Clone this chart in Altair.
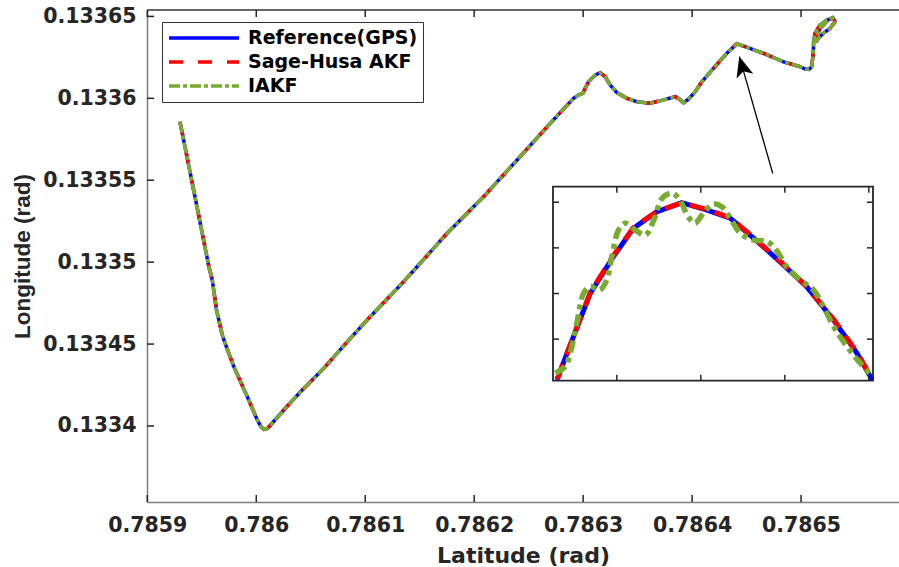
import altair as alt
import pandas as pd

# ---------------- data ----------------
series_names = ["Reference(GPS)", "Sage-Husa AKF", "IAKF"]
series_colors = ["#0000FF", "#FF0000", "#77AC30"]

# trajectory (the three estimates coincide at this scale)
track_lat = [0.7859299, 0.7859321, 0.7859437, 0.7859565, 0.7859596, 0.7859635,
             0.7859688, 0.7859709, 0.7859794, 0.7859917, 0.7860009, 0.7860039,
             0.7860069, 0.7860103, 0.7860131, 0.7860253, 0.7860406, 0.7860619,
             0.7860864, 0.7861017, 0.7861353, 0.7861751, 0.7862087, 0.7862393,
             0.7862698, 0.7862912, 0.7862958, 0.7862998, 0.7863019, 0.7863049,
             0.7863111, 0.7863157, 0.7863203, 0.7863248, 0.7863310, 0.7863402,
             0.7863493, 0.7863615, 0.7863737, 0.7863845, 0.7863884, 0.7863921,
             0.7863966, 0.7864028, 0.7864089, 0.7864196, 0.7864319, 0.7864410,
             0.7864471, 0.7864654, 0.7864838, 0.7864991, 0.7865037, 0.7865073,
             0.7865098, 0.7865113, 0.7865115, 0.7865128, 0.7865174, 0.7865236,
             0.7865296, 0.7865312, 0.7865266, 0.7865204, 0.7865159, 0.7865137,
             0.7865165, 0.7865248, 0.7865303]
track_lon = [0.1335857, 0.1335786, 0.1335400, 0.1334972, 0.1334891, 0.1334708,
             0.1334555, 0.1334513, 0.1334362, 0.1334179, 0.1334037, 0.1334000,
             0.1333980, 0.1333985, 0.1334006, 0.1334098, 0.1334209, 0.1334352,
             0.1334535, 0.1334647, 0.1334881, 0.1335176, 0.1335400, 0.1335623,
             0.1335847, 0.1336000, 0.1336020, 0.1336031, 0.1336061, 0.1336101,
             0.1336142, 0.1336156, 0.1336132, 0.1336081, 0.1336034, 0.1336000,
             0.1335979, 0.1335970, 0.1335990, 0.1336010, 0.1335994, 0.1335973,
             0.1335994, 0.1336040, 0.1336101, 0.1336183, 0.1336275, 0.1336333,
             0.1336319, 0.1336275, 0.1336223, 0.1336193, 0.1336179, 0.1336176,
             0.1336193, 0.1336284, 0.1336345, 0.1336397, 0.1336447, 0.1336478,
             0.1336488, 0.1336467, 0.1336427, 0.1336397, 0.1336366, 0.1336344,
             0.1336417, 0.1336478, 0.1336496]

x_ticks = [0.7859, 0.7860, 0.7861, 0.7862, 0.7863, 0.7864, 0.7865]
y_ticks = [0.13340, 0.13345, 0.13350, 0.13355, 0.13360, 0.13365]
x_domain = [0.7858997, 0.7865899]
y_domain = [0.1333536, 0.1336539]

# arrow pointing at the zoomed peak
arrow_lat = [0.7864740, 0.7864434]
arrow_lon = [0.1335542, 0.1336254]
arrow_head_lat = [0.7864459]
arrow_head_lon = [0.1336195]

# inset (zoom of the peak), in inset tick units
inset_ref_u = [0.286, 0.484, 0.682, 0.96, 1.198, 1.476, 1.774, 2.07, 2.35, 2.63,
               2.94, 3.26, 3.58, 3.86, 4.04]
inset_ref_v = [0.109, 1.057, 2.0, 2.81, 3.43, 3.79, 3.99, 3.83, 3.65, 3.21,
               2.70, 2.15, 1.42, 0.69, 0.109]
inset_sage_u = [0.29, 0.487, 0.684, 0.962, 1.20, 1.478, 1.776, 2.072, 2.352, 2.632,
                2.942, 3.262, 3.582, 3.862, 4.045]
inset_sage_v = [0.12, 1.08, 2.02, 2.84, 3.45, 3.80, 3.99, 3.84, 3.66, 3.22,
                2.71, 2.15, 1.43, 0.70, 0.11]
inset_iakf_u = [0.267, 0.385, 0.444, 0.524, 0.603, 0.682, 0.80, 0.88, 0.94, 1.02,
                1.10, 1.22, 1.34, 1.44, 1.54, 1.655, 1.75, 1.85, 1.93, 2.03,
                2.15, 2.25, 2.35, 2.47, 2.63, 2.79, 2.90, 3.02, 3.18, 3.34,
                3.46, 3.58, 3.74, 3.90, 4.04]
inset_iakf_v = [0.255, 0.40, 0.69, 1.35, 2.0, 2.15, 2.08, 2.30, 2.81, 3.39,
                3.54, 3.39, 3.28, 3.61, 4.09, 4.20, 4.05, 3.68, 3.54, 3.76,
                3.96, 3.90, 3.65, 3.32, 3.17, 3.14, 2.95, 2.59, 2.30, 2.08,
                1.71, 1.28, 0.84, 0.47, 0.18]
inset_u_ticks = [1, 2, 3, 4]
inset_v_ticks = [1, 2, 3, 4]
inset_u_domain = [0.24, 4.05]
inset_v_domain = [0.09, 4.34]

# ---------------- layout ----------------
W, H = 752, 492
TXT = "#262626"
FONT = "DejaVu Sans"
LBL = 20.5

rows = []
for s in series_names:
    for i, (a, b) in enumerate(zip(track_lat, track_lon)):
        rows.append({"series": s, "lat": a, "lon": b, "idx": i})
df = pd.DataFrame(rows)

xs = alt.Scale(domain=x_domain, nice=False, zero=False)
ys = alt.Scale(domain=y_domain, nice=False, zero=False)

x_axis = alt.Axis(values=x_ticks, format=".4~f", ticks=False, tickSize=0, grid=False,
                  domainColor="#7f7f7f", domainWidth=1.5,
                  labelFont=FONT, labelFontSize=LBL, labelFontWeight="bold",
                  labelColor=TXT, labelPadding=13.5, labelFlush=False, labelOverlap=False,
                  title="Latitude (rad)", titleFont=FONT, titleFontSize=22,
                  titleFontWeight="bold", titleColor=TXT, titleY=43)
y_axis = alt.Axis(values=y_ticks, format=".5~f", ticks=False, tickSize=0, grid=False,
                  domainColor="#7f7f7f", domainWidth=1.5,
                  labelFont=FONT, labelFontSize=LBL, labelFontWeight="bold",
                  labelColor=TXT, labelPadding=11, labelFlush=False, labelOverlap=False,
                  title="Longitude (rad)", titleFont="Liberation Sans", titleFontSize=22.5,
                  titleFontWeight="bold", titleColor=TXT, titleX=-113, titleY=H / 2)

legend = alt.Legend(title=None, orient="none", legendX=15, legendY=12, direction="vertical",
                    fillColor="white", strokeColor="#333333", padding=5,
                    cornerRadius=0, symbolType="stroke", symbolSize=4900,
                    symbolStrokeWidth=2.5, clipHeight=22, rowPadding=2,
                    labelFont=FONT, labelFontSize=19, labelFontWeight="bold",
                    labelColor="#000000", labelOffset=7, labelLimit=400)

color = alt.Color("series:N", scale=alt.Scale(domain=series_names, range=series_colors),
                  legend=legend)
dash = alt.StrokeDash("series:N",
                      scale=alt.Scale(domain=series_names,
                                      range=[[1, 0], [14, 15], [11, 3, 4, 3]]),
                      legend=legend)
width = alt.StrokeWidth("series:N",
                        scale=alt.Scale(domain=series_names, range=[3.5, 3.5, 4.2]),
                        legend=None)

base = alt.Chart(df).mark_line(strokeCap="butt").encode(
    x=alt.X("lat:Q", scale=xs, axis=x_axis),
    y=alt.Y("lon:Q", scale=ys, axis=y_axis),
    color=color, strokeDash=dash, strokeWidth=width, order=alt.Order("idx:Q"))
line_layers = [base.transform_filter(alt.datum.series == s) for s in series_names]

xt = pd.DataFrame({"v": x_ticks})
yt = pd.DataFrame({"v": y_ticks})
tick_kw = dict(color=TXT, thickness=1.5, size=7, opacity=1)
bottom_ticks = alt.Chart(xt).mark_tick(orient="vertical", yOffset=-3.5, **tick_kw).encode(
    x=alt.X("v:Q", scale=xs, axis=x_axis), y=alt.value(H))
top_ticks = alt.Chart(xt).mark_tick(orient="vertical", yOffset=3.5, **tick_kw).encode(
    x=alt.X("v:Q", scale=xs, axis=x_axis), y=alt.value(0))
left_ticks = alt.Chart(yt).mark_tick(orient="horizontal", xOffset=3.5, **tick_kw).encode(
    y=alt.Y("v:Q", scale=ys, axis=y_axis), x=alt.value(0))
top_line = alt.Chart(pd.DataFrame({"a": [0]})).mark_rule(color="#333333", strokeWidth=1.5).encode(
    x=alt.value(0), x2=alt.value(W), y=alt.value(0))

arrow_df = pd.DataFrame({"x0": [arrow_lat[0]], "x1": [arrow_lat[1]],
                         "y0": [arrow_lon[0]], "y1": [arrow_lon[1]]})
arrow_line = alt.Chart(arrow_df).mark_rule(color="black", strokeWidth=1.3).encode(
    x=alt.X("x0:Q", scale=xs, axis=x_axis), x2="x1:Q",
    y=alt.Y("y0:Q", scale=ys, axis=y_axis), y2="y1:Q")
head_df = pd.DataFrame({"x": arrow_head_lat, "y": arrow_head_lon})
arrow_head = alt.Chart(head_df).mark_point(
    shape="M0,-1L0.85,1L0,0.5L-0.85,1Z", filled=True, size=420, angle=344,
    color="black", opacity=1, strokeWidth=0).encode(
    x=alt.X("x:Q", scale=xs, axis=x_axis), y=alt.Y("y:Q", scale=ys, axis=y_axis))

main = alt.layer(*line_layers, arrow_line, arrow_head, top_line,
                 bottom_ticks, top_ticks, left_ticks)

# ---------------- inset ----------------
us = alt.Scale(domain=inset_u_domain, range=[406, 726], nice=False, zero=False)
vs = alt.Scale(domain=inset_v_domain, range=[370.7, 176.7], nice=False, zero=False)

frame_df = pd.DataFrame({"u0": [inset_u_domain[0]], "u1": [inset_u_domain[1]],
                         "v0": [inset_v_domain[0]], "v1": [inset_v_domain[1]]})
frame = alt.Chart(frame_df).mark_rect(fill="white", stroke=TXT, strokeWidth=1.8).encode(
    x=alt.X("u0:Q", scale=us, axis=None), x2="u1:Q",
    y=alt.Y("v0:Q", scale=vs, axis=None), y2="v1:Q")


def inset_line(u, v, col, dsh, sw, interp):
    d = pd.DataFrame({"u": u, "v": v, "idx": list(range(len(u)))})
    return alt.Chart(d).mark_line(color=col, strokeDash=dsh, strokeWidth=sw,
                                  strokeCap="butt", interpolate=interp).encode(
        x=alt.X("u:Q", scale=us, axis=None), y=alt.Y("v:Q", scale=vs, axis=None),
        order=alt.Order("idx:Q"))


in_ref = inset_line(inset_ref_u, inset_ref_v, series_colors[0], [1, 0], 5, "linear")
in_sage = inset_line(inset_sage_u, inset_sage_v, series_colors[1], [16, 10], 5, "linear")
in_iakf = inset_line(inset_iakf_u, inset_iakf_v, series_colors[2], [12, 5, 5, 5], 5.5, "catmull-rom")

itx = pd.DataFrame({"u": inset_u_ticks, "lo": inset_v_domain[0], "hi": inset_v_domain[1]})
ity = pd.DataFrame({"v": inset_v_ticks, "lo": inset_u_domain[0], "hi": inset_u_domain[1]})
ik = dict(color=TXT, thickness=1.5, size=6, opacity=1)
in_tb = alt.Chart(itx).mark_tick(orient="vertical", yOffset=-3, **ik).encode(
    x=alt.X("u:Q", scale=us, axis=None), y=alt.Y("lo:Q", scale=vs, axis=None))
in_tt = alt.Chart(itx).mark_tick(orient="vertical", yOffset=3, **ik).encode(
    x=alt.X("u:Q", scale=us, axis=None), y=alt.Y("hi:Q", scale=vs, axis=None))
in_tl = alt.Chart(ity).mark_tick(orient="horizontal", xOffset=3, **ik).encode(
    y=alt.Y("v:Q", scale=vs, axis=None), x=alt.X("lo:Q", scale=us, axis=None))
in_tr = alt.Chart(ity).mark_tick(orient="horizontal", xOffset=-3, **ik).encode(
    y=alt.Y("v:Q", scale=vs, axis=None), x=alt.X("hi:Q", scale=us, axis=None))

inset = alt.layer(frame, in_ref, in_sage, in_iakf, in_tb, in_tt, in_tl, in_tr)

chart = alt.layer(main, inset).resolve_scale(x="independent", y="independent").properties(
    width=W, height=H,
    padding={"left": 147, "top": 10, "right": 0, "bottom": 65},
    autosize=alt.AutoSizeParams(type="none"),
    background="white",
).configure_view(stroke=None)

chart.save("out.html", embed_options={"renderer": "svg", "actions": False})
